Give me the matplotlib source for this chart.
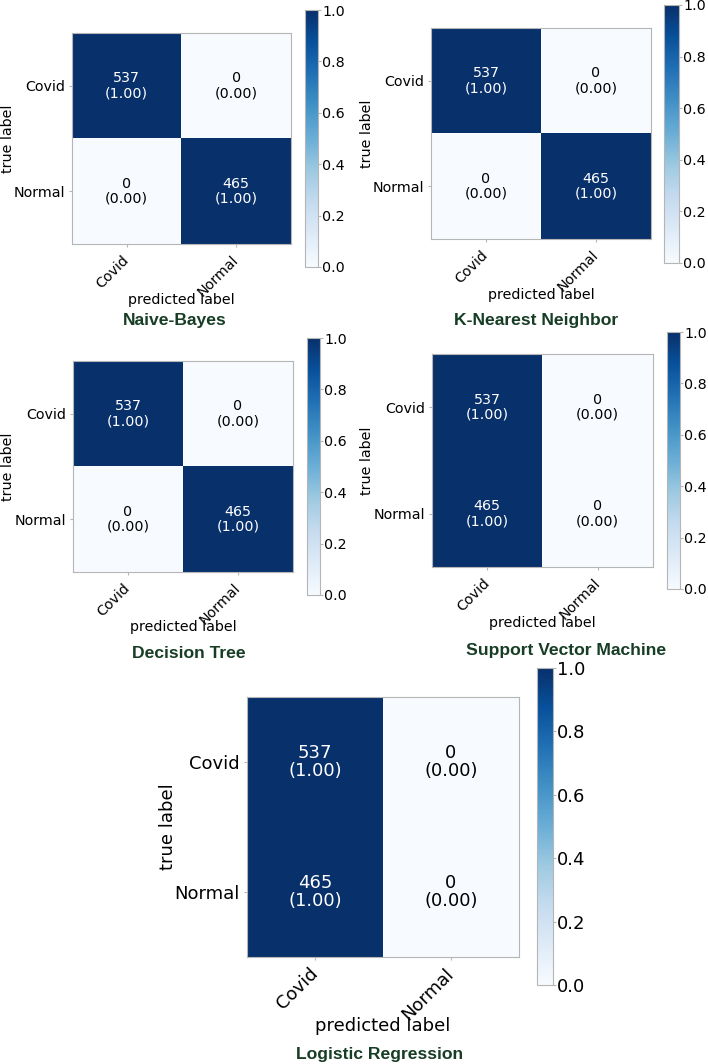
import numpy as np
import matplotlib
matplotlib.use("Agg")
import matplotlib.pyplot as plt

# confusion matrices (rows = true, cols = predicted)
class_names = ["Covid", "Normal"]
model_names = ["Naive-Bayes", "K-Nearest Neighbor", "Decision Tree",
               "Support Vector Machine", "Logistic Regression"]
cm_nb = [[537, 0], [0, 465]]
cm_knn = [[537, 0], [0, 465]]
cm_dt = [[537, 0], [0, 465]]
cm_svm = [[537, 0], [465, 0]]
cm_lr = [[537, 0], [465, 0]]
matrices = [cm_nb, cm_knn, cm_dt, cm_svm, cm_lr]
cbar_ticks = [0.0, 0.2, 0.4, 0.6, 0.8, 1.0]

W, H = 708, 1064

# pixel layout: matrix box, colorbar box, ylabel x, xlabel y, title (x, y), font size
layout = [
    dict(mat=(72, 33, 291, 244), cb=(305, 10, 318, 267), ylab=8, xlab=300, title=(175, 320), fs=10.3),
    dict(mat=(431, 28, 651, 239), cb=(664, 5, 679, 263), ylab=367, xlab=295, title=(536, 320), fs=10.3),
    dict(mat=(73, 361, 293, 572), cb=(307, 338, 320, 595), ylab=8, xlab=627, title=(189, 653), fs=10.3),
    dict(mat=(432, 354, 653, 567), cb=(667, 332, 680, 589), ylab=367, xlab=623, title=(566, 651), fs=10.3),
    dict(mat=(247, 697, 519, 957), cb=(537, 668, 553, 985), ylab=168, xlab=1026, title=(380, 1054), fs=13),
]

EDGE = "#b5b5b5"
TITLE_COLOR = "#173d25"


def box(x0, y0, x1, y1):
    return [x0 / W, 1 - y1 / H, (x1 - x0) / W, (y1 - y0) / H]


def plot_cm(fig, cm, name, lay):
    cm = np.array(cm)
    norm = cm / cm.sum(axis=1, keepdims=True)
    fs = lay["fs"]
    x0, y0, x1, y1 = lay["mat"]
    ax = fig.add_axes(box(*lay["mat"]))
    im = ax.imshow(norm, cmap="Blues", vmin=0, vmax=1, aspect="auto")
    for i in range(cm.shape[0]):
        for j in range(cm.shape[1]):
            color = "white" if norm[i, j] > 0.5 else "black"
            ax.text(j, i, f"{cm[i, j]}\n({norm[i, j]:.2f})", ha="center", va="center",
                    color=color, fontsize=fs, linespacing=1.05)
    ax.set_xticks(range(len(class_names)))
    ax.set_yticks(range(len(class_names)))
    ax.set_xticklabels(class_names, rotation=45, ha="right", va="center",
                       rotation_mode="anchor", fontsize=fs)
    ax.set_yticklabels(class_names, fontsize=fs)
    ax.tick_params(length=2, color=EDGE, pad=3)
    ax.tick_params(axis="x", pad=8)
    for s in ax.spines.values():
        s.set_color(EDGE)
        s.set_linewidth(0.8)
    ax.set_xlabel("predicted label", fontsize=fs)
    ax.set_ylabel("true label", fontsize=fs)
    ax.xaxis.label.set_va("center")
    ax.yaxis.label.set_va("center")
    ax.xaxis.set_label_coords(0.5, (y1 - lay["xlab"]) / (y1 - y0))
    ax.yaxis.set_label_coords((lay["ylab"] - x0) / (x1 - x0), 0.5)

    cax = fig.add_axes(box(*lay["cb"]))
    cb = fig.colorbar(im, cax=cax, ticks=cbar_ticks)
    cb.ax.set_yticklabels([f"{t:.1f}" for t in cbar_ticks], fontsize=fs)
    cb.ax.tick_params(length=2, color=EDGE, pad=1)
    cb.outline.set_edgecolor(EDGE)
    cb.outline.set_linewidth(0.8)

    tx, ty = lay["title"]
    fig.text(tx / W, 1 - ty / H, name, ha="center", va="center", fontsize=12.6,
             fontweight="bold", color=TITLE_COLOR, family="Liberation Sans")


fig = plt.figure(figsize=(W / 100, H / 100), dpi=100)
for cm, name, lay in zip(matrices, model_names, layout):
    plot_cm(fig, cm, name, lay)

fig.savefig("out.png", dpi=100)
